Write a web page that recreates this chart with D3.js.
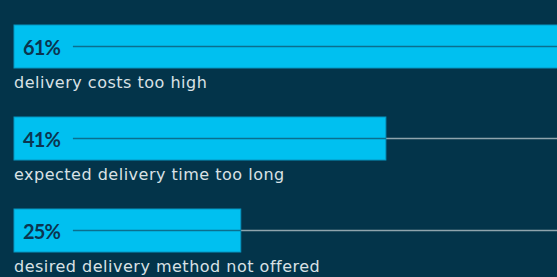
<!DOCTYPE html>
<html>
<head>
<meta charset="utf-8">
<script src="https://cdn.jsdelivr.net/npm/d3@7"></script>
<style>
  html, body { margin: 0; padding: 0; background: #03344a; }
  svg { display: block; }
</style>
</head>
<body>
<svg id="chart"></svg>
<script>
const width = 557;
const height = 277;

// data
const categories = [
    "delivery costs too high",
    "expected delivery time too long",
    "desired delivery method not offered"
];
const values = [61, 41, 25];
const valueLabels = ["61%", "41%", "25%"];

const svg = d3.select("#chart")
    .attr("width", width)
    .attr("height", height);

const x = d3.scaleLinear().domain([0, 100]).range([14, 14 + 907]);
const y = d3.scaleBand().domain(categories).range([25, 25 + 92 * 3]).paddingInner(0).paddingOuter(0);
const barH = 43;

const rows = svg.selectAll("g.row")
    .data(categories)
    .enter()
    .append("g")
    .attr("class", "row")
    .attr("transform", d => `translate(0,${y(d)})`);

// grey guide line out to the right edge
rows.append("line")
    .attr("x1", (d, i) => x(values[i]))
    .attr("x2", width)
    .attr("y1", barH / 2)
    .attr("y2", barH / 2)
    .attr("stroke", "#8fa4ad")
    .attr("stroke-width", 1.5);

// bars
rows.append("rect")
    .attr("x", x(0))
    .attr("y", 0)
    .attr("width", (d, i) => x(values[i]) - x(0))
    .attr("height", barH)
    .attr("fill", "#00c0f0")
    .attr("stroke", "#0796c2")
    .attr("stroke-width", 1);

// value labels
const labels = rows.append("text")
    .attr("x", 23)
    .attr("y", barH / 2 + 8.5)
    .attr("font-family", "Lato, sans-serif")
    .attr("font-weight", "bold")
    .attr("font-size", 20)
    .attr("letter-spacing", -0.9)
    .attr("fill", "#0b3550")
    .text((d, i) => valueLabels[i]);

// dark line inside bar, after the label
rows.append("line")
    .attr("x1", function (d, i) {
        return 23 + labels.nodes()[i].getComputedTextLength() + 13;
    })
    .attr("x2", (d, i) => x(values[i]))
    .attr("y1", barH / 2)
    .attr("y2", barH / 2)
    .attr("stroke", "#0a6f8f")
    .attr("stroke-width", 1.5);

// category names
rows.append("text")
    .attr("x", 14)
    .attr("y", barH + 20)
    .attr("font-family", "'DejaVu Sans', sans-serif")
    .attr("font-size", 16)
    .attr("letter-spacing", 0.5)
    .attr("fill", "#d9e1e5")
    .text(d => d);
</script>
</body>
</html>
